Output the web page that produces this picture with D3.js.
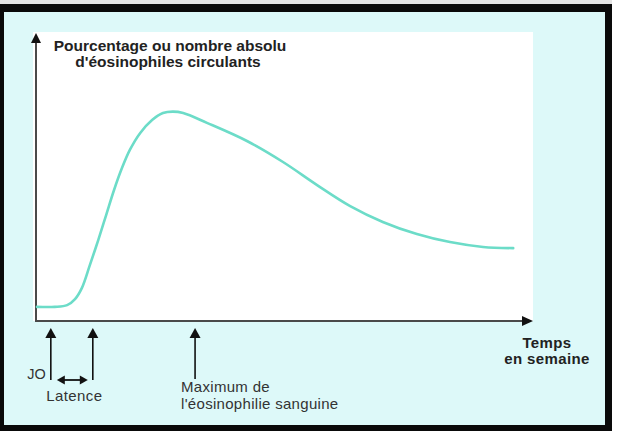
<!DOCTYPE html>
<html>
<head>
<meta charset="utf-8">
<script src="https://cdn.jsdelivr.net/npm/d3@7"></script>
<style>
  html, body { margin: 0; padding: 0; background: #ffffff; }
  svg { display: block; }
</style>
</head>
<body>
<div id="chart"></div>
<script>
// ---- Data (time units: arbitrary, 0–100 along the axis; level: % of axis height) ----
const timePoints = [0.2, 3.8, 6.3, 7.9, 9.3, 10.9, 12.6, 14.2, 15.8, 17.4, 19.0, 21.1, 23.5, 25.7, 27.7, 29.8, 34.6, 42.7, 50.0, 56.9, 63.6, 70.2, 77.1, 83.8, 90.5, 96.6];
const eosinophils = [4.9, 4.9, 5.5, 7.6, 11.5, 19.4, 28.1, 36.8, 45.5, 53.1, 59.4, 65.3, 69.8, 72.2, 72.7, 72.2, 68.8, 62.5, 55.2, 47.2, 39.9, 34.4, 30.2, 27.4, 25.7, 25.3];
const markerLabels = ["JO", "", "Maximum de|l'éosinophilie sanguine"];
const markerTimes = [3.0, 11.5, 32.2];
const latencyLabel = "Latence";
const yTitle = ["Pourcentage ou nombre absolu", "d'éosinophiles circulants"];
const xTitle = ["Temps", "en semaine"];

const W = 620, H = 431;
const svg = d3.select("#chart").append("svg").attr("width", W).attr("height", H);

// frame
svg.append("rect").attr("x", 0).attr("y", 0).attr("width", W).attr("height", H).attr("fill", "#ffffff");
svg.append("rect").attr("x", 0).attr("y", 0).attr("width", 612).attr("height", 4).attr("fill", "#e4e4e4");
svg.append("rect").attr("x", 0).attr("y", 4).attr("width", 612).attr("height", 427).attr("fill", "#0a0a0a");
svg.append("rect").attr("x", 4).attr("y", 12).attr("width", 601).attr("height", 413).attr("fill", "#ddf9f9");
// white plotting panel
svg.append("rect").attr("x", 33).attr("y", 32).attr("width", 500).attr("height", 289).attr("fill", "#ffffff");

const x = d3.scaleLinear().domain([0, 100]).range([36, 530]);
const y = d3.scaleLinear().domain([0, 100]).range([321, 33]);

const axisColor = "#4a4a4a";
// y axis
svg.append("line").attr("x1", x(0)).attr("x2", x(0)).attr("y1", y(0) + 1).attr("y2", y(100) + 8)
  .attr("stroke", axisColor).attr("stroke-width", 2);
svg.append("path").attr("d", d3.line()([[x(0) - 5, y(100) + 10], [x(0), y(100)], [x(0) + 5, y(100) + 10]]) + "Z")
  .attr("fill", "#111");
// x axis
const xEnd = x(100) + 3;
svg.append("line").attr("x1", x(0) - 1).attr("x2", xEnd - 8).attr("y1", y(0)).attr("y2", y(0))
  .attr("stroke", axisColor).attr("stroke-width", 2);
svg.append("path").attr("d", d3.line()([[xEnd - 11, y(0) - 5], [xEnd, y(0)], [xEnd - 11, y(0) + 5]]) + "Z")
  .attr("fill", "#111");

// curve
const pts = timePoints.map((t, i) => [t, eosinophils[i]]);
svg.append("path")
  .attr("d", d3.line().x(d => x(d[0])).y(d => y(d[1])).curve(d3.curveCatmullRom.alpha(0.5))(pts))
  .attr("fill", "none").attr("stroke", "#6cdcc8").attr("stroke-width", 2.6)
  .attr("stroke-linecap", "round").attr("stroke-linejoin", "round");

// y title
const yT = svg.append("text").attr("text-anchor", "middle")
  .attr("font-family", "'Liberation Sans', Arial, sans-serif").attr("font-weight", "bold")
  .attr("font-size", 15.5).attr("fill", "#222");
yT.append("tspan").attr("x", 170).attr("y", 51).text(yTitle[0]);
yT.append("tspan").attr("x", 168).attr("y", 67).text(yTitle[1]);

// x title
const xT = svg.append("text").attr("text-anchor", "middle")
  .attr("font-family", "'Liberation Sans', Arial, sans-serif").attr("font-weight", "bold")
  .attr("font-size", 15).attr("letter-spacing", 0.4).attr("fill", "#222");
xT.append("tspan").attr("x", 547).attr("y", 348).text(xTitle[0]);
xT.append("tspan").attr("x", 547).attr("y", 364).text(xTitle[1]);

// marker arrows
const arrowTop = y(0) + 7;
const bottoms = [380, 380, 379];
markerTimes.forEach((t, i) => {
  const cx = x(t);
  svg.append("line").attr("x1", cx).attr("x2", cx).attr("y1", arrowTop + 8).attr("y2", bottoms[i])
    .attr("stroke", "#111").attr("stroke-width", 1.6);
  svg.append("path").attr("d", d3.line()([[cx - 5.5, arrowTop + 10], [cx, arrowTop], [cx + 5.5, arrowTop + 10]]) + "Z")
    .attr("fill", "#111");
});

const labFont = "'Liberation Sans', Arial, sans-serif";
// JO label
svg.append("text").attr("x", x(markerTimes[0]) - 5).attr("y", 379).attr("text-anchor", "end")
  .attr("font-family", labFont).attr("font-size", 14.5).attr("fill", "#333").text(markerLabels[0]);

// latency double arrow
const la = x(markerTimes[0]) + 6, lb = x(markerTimes[1]) - 5, ly = 380;
svg.append("line").attr("x1", la + 6).attr("x2", lb - 6).attr("y1", ly).attr("y2", ly)
  .attr("stroke", "#111").attr("stroke-width", 1.8);
svg.append("path").attr("d", d3.line()([[la + 8, ly - 4.5], [la, ly], [la + 8, ly + 4.5]]) + "Z").attr("fill", "#111");
svg.append("path").attr("d", d3.line()([[lb - 8, ly - 4.5], [lb, ly], [lb - 8, ly + 4.5]]) + "Z").attr("fill", "#111");
svg.append("text").attr("x", (x(markerTimes[0]) + x(markerTimes[1])) / 2 + 2.5).attr("y", 401).attr("text-anchor", "middle")
  .attr("font-family", labFont).attr("font-size", 15).attr("letter-spacing", 0.4).attr("fill", "#333").text(latencyLabel);

// maximum label
const maxLines = markerLabels[2].split("|");
const mT = svg.append("text").attr("font-family", labFont).attr("font-size", 15)
  .attr("letter-spacing", 0.3).attr("fill", "#333");
mT.append("tspan").attr("x", x(markerTimes[2]) - 14).attr("y", 392).text(maxLines[0]);
mT.append("tspan").attr("x", x(markerTimes[2]) - 14).attr("y", 409).text(maxLines[1]);
</script>
</body>
</html>
